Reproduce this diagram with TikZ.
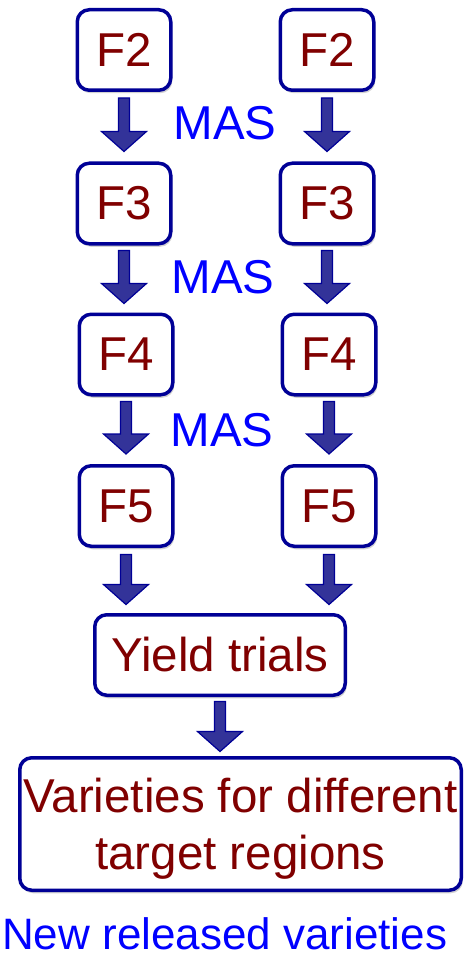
\documentclass[tikz,border=0pt]{standalone}
\usepackage{fontspec}
\setmainfont{Liberation Sans}
\usetikzlibrary{calc,shadows}
\definecolor{boxblue}{RGB}{0,0,150}
\definecolor{arrfill}{RGB}{51,51,153}
\definecolor{txtred}{RGB}{128,0,0}
\definecolor{masblue}{RGB}{0,0,255}
\tikzset{
  fbox/.style={draw=boxblue, line width=3.5pt, rounded corners=12pt, fill=white,
    inner sep=0pt, text=txtred, font=\fontsize{47.5}{57}\selectfont,
    drop shadow={shadow xshift=1.5pt, shadow yshift=-3pt, opacity=0.25, fill=black!70}},
  gen/.style={fbox, minimum width=93.5pt, minimum height=80.5pt},
  mas/.style={text=masblue, font=\fontsize{47.5}{57}\selectfont, inner sep=0pt},
  arrowsty/.style={fill=arrfill, draw=boxblue, line width=1.2pt, line join=miter},
}
% #1 source, #2 target, #3 gap below source, #4 gap above target
\newcommand\downarr[4]{%
  \filldraw[arrowsty] let \p1=(#1.south), \p2=(#2.north) in
    (\x1-5.5pt,\y1-#3) -- (\x1+5.5pt,\y1-#3) -- (\x1+5.5pt,\y2+#4+20pt)
    -- (\x1+22.5pt,\y2+#4+20pt) -- (\x1,\y2+#4) -- (\x1-22.5pt,\y2+#4+20pt)
    -- (\x1-5.5pt,\y2+#4+20pt) -- cycle;}
\begin{document}
\begin{tikzpicture}[x=1pt,y=-1pt]
\useasboundingbox (0,0) rectangle (464,960);
% left column
\node[gen] (l2) at (124,50) {F2};
\node[gen] (l3) at (124,203.5) {F3};
\node[gen] (l4) at (126,354.5) {F4};
\node[gen] (l5) at (126,506) {F5};
% right column
\node[gen] (r2) at (327,50) {F2};
\node[gen] (r3) at (327,203.5) {F3};
\node[gen] (r4) at (329,354.5) {F4};
\node[gen] (r5) at (329,506) {F5};
% MAS labels
\node[mas] (m1) at (225,123) {MAS};
\node[mas] (m2) at (223,277) {MAS};
\node[mas] (m3) at (222,430) {MAS};
% lower boxes
\node[fbox, minimum width=250.5pt, minimum height=80.5pt] (yt) at (220,655) {Yield trials};
\node[fbox, minimum width=441.5pt, minimum height=132.5pt, align=center, text depth=0pt]
  (var) at (240.5,824) {Varieties for different\\target regions};
\node[mas, anchor=west, font=\fontsize{44}{53}\selectfont] (nrv) at (2,934) {New released varieties};
% arrows
\downarr{l2}{l3}{6pt}{10pt}
\downarr{l3}{l4}{5pt}{9pt}
\downarr{l4}{l5}{5pt}{10pt}
\downarr{r2}{r3}{6pt}{10pt}
\downarr{r3}{r4}{5pt}{9pt}
\downarr{r4}{r5}{5pt}{10pt}
\downarr{l5}{yt}{6.5pt}{8.5pt}
\downarr{r5}{yt}{6.5pt}{8.5pt}
\downarr{yt}{var}{4.5pt}{4.5pt}
\end{tikzpicture}
\end{document}
